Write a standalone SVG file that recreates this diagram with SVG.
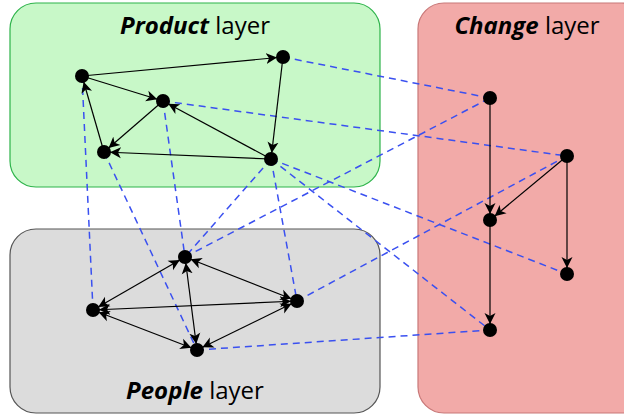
<svg xmlns="http://www.w3.org/2000/svg" width="624" height="417" viewBox="0 0 624 417">
<style>
.t{font-family:"Open Sans","Liberation Sans",sans-serif;font-size:24px;fill:#000}
.b{font-weight:bold;font-style:italic}
.e{stroke:#000;stroke-width:1.2;fill:none}
.a{marker-end:url(#ah)}
.bi{marker-end:url(#ah);marker-start:url(#ah)}
.d{stroke:#3a50f0;stroke-width:1.5;stroke-dasharray:7,5;fill:none}
.n{fill:#000}
</style>
<defs>
<marker id="ah" markerUnits="userSpaceOnUse" markerWidth="20" markerHeight="12" viewBox="0 0 20 12" refX="17" refY="6" orient="auto-start-reverse">
<path d="M0,0.5 L11,6 L0,11.5 L3,6 Z" fill="#000"/>
</marker>
</defs>
<g id="layers">
<g id="product-layer"><rect x="10" y="3" width="370" height="184" rx="26" fill="#c8f8c8" stroke="#2db34a" stroke-width="1.2"/><text class="t" x="195" y="34" text-anchor="middle"><tspan class="b">Product</tspan> layer</text></g>
<g id="change-layer"><rect x="418" y="3" width="230" height="410" rx="26" fill="#f2aaa8" stroke="#c87878" stroke-width="1.2"/><text class="t" x="527" y="34" text-anchor="middle"><tspan class="b">Change</tspan> layer</text></g>
<g id="people-layer"><rect x="10" y="229" width="370" height="184" rx="26" fill="#dcdcdc" stroke="#555" stroke-width="1.2"/><text class="t" x="195" y="399" text-anchor="middle"><tspan class="b">People</tspan> layer</text></g>
</g>
<g id="connectors">
<line class="d" x1="283" y1="57" x2="490" y2="98"/>
<line class="d" x1="163" y1="101" x2="567" y2="156"/>
<line class="d" x1="82" y1="76" x2="93" y2="310"/>
<line class="d" x1="104" y1="152" x2="197" y2="350"/>
<line class="d" x1="163" y1="101" x2="185" y2="257"/>
<line class="d" x1="271" y1="159" x2="185" y2="257"/>
<line class="d" x1="271" y1="159" x2="297" y2="301"/>
<line class="d" x1="271" y1="159" x2="567" y2="274"/>
<line class="d" x1="271" y1="159" x2="490" y2="330"/>
<line class="d" x1="185" y1="257" x2="490" y2="98"/>
<line class="d" x1="297" y1="301" x2="567" y2="156"/>
<line class="d" x1="197" y1="350" x2="490" y2="330"/>
<line class="e a" x1="82" y1="76" x2="283" y2="57"/>
<line class="e a" x1="82" y1="76" x2="163" y2="101"/>
<line class="e a" x1="163" y1="101" x2="104" y2="152"/>
<line class="e a" x1="104" y1="152" x2="82" y2="76"/>
<line class="e a" x1="271" y1="159" x2="163" y2="101"/>
<line class="e a" x1="271" y1="159" x2="104" y2="152"/>
<line class="e a" x1="283" y1="57" x2="271" y2="159"/>
<line class="e bi" x1="185" y1="257" x2="93" y2="310"/>
<line class="e bi" x1="185" y1="257" x2="297" y2="301"/>
<line class="e bi" x1="185" y1="257" x2="197" y2="350"/>
<line class="e bi" x1="93" y1="310" x2="297" y2="301"/>
<line class="e bi" x1="93" y1="310" x2="197" y2="350"/>
<line class="e bi" x1="197" y1="350" x2="297" y2="301"/>
<line class="e a" x1="490" y1="98" x2="490" y2="220"/>
<line class="e a" x1="490" y1="220" x2="490" y2="330"/>
<line class="e a" x1="567" y1="156" x2="490" y2="220"/>
<line class="e a" x1="567" y1="156" x2="567" y2="274"/>
</g>
<g id="P1"><circle class="n" cx="82" cy="76" r="7"/></g>
<g id="P2"><circle class="n" cx="283" cy="57" r="7"/></g>
<g id="P3"><circle class="n" cx="163" cy="101" r="7"/></g>
<g id="P4"><circle class="n" cx="104" cy="152" r="7"/></g>
<g id="P5"><circle class="n" cx="271" cy="159" r="7"/></g>
<g id="Q1"><circle class="n" cx="185" cy="257" r="7"/></g>
<g id="Q2"><circle class="n" cx="93" cy="310" r="7"/></g>
<g id="Q3"><circle class="n" cx="297" cy="301" r="7"/></g>
<g id="Q4"><circle class="n" cx="197" cy="350" r="7"/></g>
<g id="C1"><circle class="n" cx="490" cy="98" r="7"/></g>
<g id="C2"><circle class="n" cx="567" cy="156" r="7"/></g>
<g id="C3"><circle class="n" cx="490" cy="220" r="7"/></g>
<g id="C4"><circle class="n" cx="567" cy="274" r="7"/></g>
<g id="C5"><circle class="n" cx="490" cy="330" r="7"/></g>
</svg>
